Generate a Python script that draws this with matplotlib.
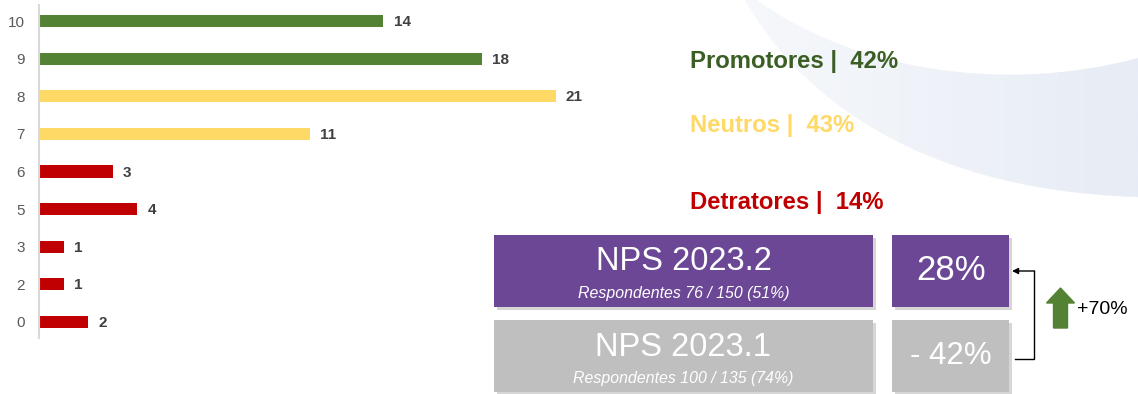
import numpy as np
import matplotlib
matplotlib.use("Agg")
import matplotlib.pyplot as plt
from matplotlib.patches import Rectangle, PathPatch, FancyArrow
from matplotlib.path import Path
from matplotlib.colors import LinearSegmentedColormap

# ---- data ----
scores = ["10", "9", "8", "7", "6", "5", "3", "2", "0"]
counts = [14, 18, 21, 11, 3, 4, 1, 1, 2]
bar_colors = ["#548235", "#548235", "#FFD966", "#FFD966",
              "#C00000", "#C00000", "#C00000", "#C00000", "#C00000"]

group_labels = ["Promotores", "Neutros", "Detratores"]
group_pcts = [42, 43, 14]
group_colors = ["#3B5E24", "#FFD966", "#C00000"]

periods = ["NPS 2023.2", "NPS 2023.1"]
respondents = [76, 100]
invited = [150, 135]
resp_rate = [51, 74]
nps_values = [28, -42]
period_colors = ["#6B4796", "#BFBFBF"]
variation = 70

W, H = 1138, 394
fig = plt.figure(figsize=(W / 100, H / 100), dpi=100)

# full-figure layer in pixel units for the summary panel
bg = fig.add_axes([0, 0, 1, 1], zorder=0)
bg.axis("off")

# soft decorative swoosh in the upper right
verts = [(745, 0), (790, 80), (900, 190), (1138, 197),
         (1138, 58),
         (1000, 95), (850, 68), (757, 0),
         (745, 0)]
codes = [Path.MOVETO, Path.CURVE4, Path.CURVE4, Path.CURVE4,
         Path.LINETO,
         Path.CURVE4, Path.CURVE4, Path.CURVE4,
         Path.CLOSEPOLY]
swoosh = PathPatch(Path(verts, codes), facecolor="none", edgecolor="none")
bg.add_patch(swoosh)
grad = np.linspace(0, 1, 256).reshape(1, -1)
cmap = LinearSegmentedColormap.from_list("sw", ["#F6F8FB", "#E7ECF5"])
im = bg.imshow(grad, cmap=cmap, extent=[740, 1138, 200, 0], aspect="auto",
               interpolation="bilinear", zorder=0)
im.set_clip_path(swoosh)
bg.set_xlim(0, W)
bg.set_ylim(H, 0)

# ---- bar chart ----
ax = fig.add_axes([39 / W, (H - 338) / H, (600 - 39) / W, 333 / H], zorder=2)
ax.patch.set_alpha(0)
ypos = np.arange(len(scores))
ax.barh(ypos, counts, height=0.32, color=bar_colors, zorder=2)
for y, v in zip(ypos, counts):
    ax.text(v + 0.42, y + 0.03, str(v), va="center", ha="left", fontsize=11,
            fontweight="bold", color="#404040", family="Liberation Sans")
ax.set_yticks(ypos)
ax.set_yticklabels(scores, fontsize=11, color="#595959", family="Liberation Sans")
ax.tick_params(axis="y", length=0, pad=10)
ax.set_ylim(len(scores) - 0.57, -0.43)
ax.set_xlim(0, 561 / 24.6)
ax.set_xticks([])
for s in ["top", "right", "bottom"]:
    ax.spines[s].set_visible(False)
ax.spines["left"].set_color("#D9D9D9")
ax.spines["left"].set_linewidth(1.5)

# ---- NPS group shares ----
baselines = [68, 132, 209]
for lab, pct, col, yb in zip(group_labels, group_pcts, group_colors, baselines):
    bg.text(690, yb, f"{lab} |  {pct}%", color=col, fontsize=17.2,
            fontweight="bold", family="Liberation Sans", va="baseline", ha="left")

# ---- NPS boxes ----
font = "Liberation Sans"
row_top = [235, 320]
box_h = 72
for i in range(2):
    t = row_top[i]
    for x0, w in [(494, 379), (892, 117)]:
        bg.add_patch(Rectangle((x0 + 3, t + 3), w, box_h, facecolor="#8C8C8C",
                               alpha=0.35, edgecolor="none", zorder=1))
        bg.add_patch(Rectangle((x0, t), w, box_h, facecolor=period_colors[i],
                               edgecolor="none", zorder=2))
    bg.text(683.5, t + 27, periods[i], color="white", fontsize=23.5,
            family=font, ha="center", va="center", zorder=3)
    bg.text(683.5, t + 58.5,
            f"Respondentes {respondents[i]} / {invited[i]} ({resp_rate[i]}%)",
            color="white", fontsize=11.4, style="italic", family=font,
            ha="center", va="center", zorder=3)
    v = nps_values[i]
    vtxt = f"{v}%" if v >= 0 else f"- {abs(v)}%"
    bg.text(951, t + 36, vtxt, color="white", fontsize=25 if v >= 0 else 22.5,
            family=font, ha="center", va="center", zorder=3)

# bracket linking the two NPS values
bg.plot([1015, 1034, 1034], [359, 359, 271], color="black", lw=1.0,
        solid_joinstyle="miter", zorder=3)
bg.annotate("", xy=(1012, 271), xytext=(1034.5, 271),
            arrowprops=dict(arrowstyle="-|>", color="black", lw=1.0,
                            mutation_scale=9, shrinkA=0, shrinkB=0), zorder=3)

# variation arrow and label
bg.add_patch(FancyArrow(1060.5, 328, 0, -40, width=14, head_width=28,
                        head_length=15, length_includes_head=True,
                        color="#548235", zorder=3))
bg.text(1077, 310, f"+{variation}%", color="black", fontsize=14,
        family="Liberation Sans", ha="left", va="center", zorder=3)

fig.savefig("out.png", dpi=100)
